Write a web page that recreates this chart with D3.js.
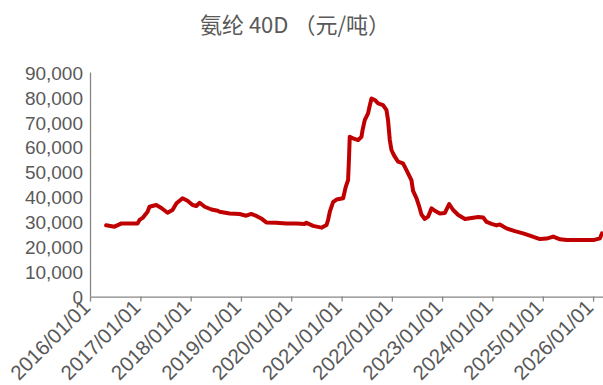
<!DOCTYPE html>
<html><head><meta charset="utf-8">
<script src="https://cdn.jsdelivr.net/npm/d3@7/dist/d3.min.js"></script>
<style>
html,body{margin:0;padding:0;background:#fff;}
svg{display:block;}
</style></head>
<body><svg id="c" width="603" height="385"></svg>
<script>
const title = "氨纶 40D （元/吨）";
const dates = ["2016-04-27","2016-06-27","2016-08-17","2016-12-11","2016-12-26","2017-01-17","2017-02-22","2017-03-08","2017-04-26","2017-06-02","2017-07-17","2017-08-22","2017-09-20","2017-11-03","2017-12-09","2018-01-15","2018-02-11","2018-03-07","2018-04-13","2018-06-01","2018-07-16","2018-07-30","2018-10-11","2018-12-22","2019-02-09","2019-03-17","2019-04-23","2019-05-28","2019-07-04","2019-09-15","2019-11-26","2020-02-07","2020-04-08","2020-04-20","2020-06-08","2020-08-08","2020-09-13","2020-09-25","2020-10-07","2020-10-31","2020-11-25","2021-01-12","2021-01-31","2021-02-17","2021-02-24","2021-03-01","2021-03-25","2021-05-01","2021-05-25","2021-06-02","2021-06-18","2021-07-12","2021-07-25","2021-08-06","2021-08-30","2021-09-23","2021-10-29","2021-11-23","2021-12-04","2021-12-17","2021-12-29","2022-01-10","2022-01-22","2022-02-15","2022-03-23","2022-04-17","2022-05-11","2022-05-23","2022-06-04","2022-06-29","2022-07-17","2022-08-04","2022-08-28","2022-09-21","2022-10-16","2022-11-09","2022-12-15","2023-01-21","2023-02-21","2023-03-22","2023-04-28","2023-06-16","2023-08-03","2023-09-20","2023-10-26","2023-11-20","2023-12-26","2024-01-31","2024-02-24","2024-04-12","2024-06-12","2024-08-11","2024-09-29","2024-12-11","2025-01-29","2025-03-18","2025-05-06","2025-06-24","2026-01-03","2026-02-20","2026-03-06"];
const values = [28700,28100,29400,29400,30800,31600,34100,36100,36800,35600,33700,34800,37500,39500,38500,36800,36400,37700,36100,35000,34500,34100,33400,33200,32500,33200,32400,31400,29800,29700,29400,29400,29200,29700,28400,27700,28750,30800,34000,38000,39000,39500,44100,46800,56000,64200,63600,62900,64200,66900,70900,73600,76900,79600,79000,77600,76900,74900,70900,62900,58900,57500,56200,54200,53500,50800,48100,46800,42500,39500,36500,33000,31200,32100,35500,34500,33400,33600,37200,34800,32800,31200,31600,32000,31800,30000,29200,28600,29000,27400,26300,25400,24500,23100,23300,24100,23000,22700,22700,23400,25400];
const yTicks = [0,10000,20000,30000,40000,50000,60000,70000,80000,90000];
const xDomain = ["2016-01-01","2026-03-14"];

(function(){
const parse = d3.timeParse("%Y-%m-%d");
const data = dates.map((d,i)=>({date:parse(d), value:values[i]}));
const svg = d3.select("#c");
const mLeft = 90, mRight = 603, mTop = 72.6, mBottom = 296.6;
const x = d3.scaleTime().domain(xDomain.map(parse)).range([mLeft, mRight]);
const y = d3.scaleLinear().domain([0,90000]).range([mBottom, mTop]);
const grey = "#595959", axisCol = "#868686";
const font = "'Liberation Sans', Arial, sans-serif";

svg.append("text").attr("x", 295).attr("y", 33).attr("text-anchor","middle")
  .attr("font-family","'Noto Sans CJK SC', sans-serif").attr("font-size",22).attr("fill",grey).text(title);

const ya = svg.append("g").attr("transform",`translate(${mLeft},0)`)
  .call(d3.axisLeft(y).tickValues(yTicks).tickSize(0).tickPadding(7).tickFormat(d3.format(",")));
ya.select(".domain").attr("stroke",axisCol).attr("stroke-width",1.3).attr("d",`M0.5,${mTop}V${mBottom}`);
ya.selectAll("text").attr("font-family",font).attr("font-size",19).attr("fill",grey).attr("dy","0.35em");

const xa = svg.append("g").attr("transform",`translate(0,${mBottom})`)
  .call(d3.axisBottom(x).ticks(d3.timeYear.every(1)).tickSize(5).tickFormat(d3.timeFormat("%Y/%m/%d")));
xa.select(".domain").attr("stroke",axisCol).attr("stroke-width",1.3).attr("d",`M${mLeft},0.5H${mRight}`);
xa.selectAll(".tick line").attr("stroke",axisCol).attr("stroke-width",1.3);
xa.selectAll("text").attr("font-family",font).attr("font-size",20.5).attr("fill",grey)
  .attr("text-anchor","end").attr("dy",0).attr("y",0)
  .attr("transform","translate(1,12) rotate(-45)");

svg.append("path").datum(data).attr("fill","none").attr("stroke","#c00000")
  .attr("stroke-width",4).attr("stroke-linejoin","round").attr("stroke-linecap","round")
  .attr("d", d3.line().x(d=>x(d.date)).y(d=>y(d.value)));
})();
</script></body></html>
